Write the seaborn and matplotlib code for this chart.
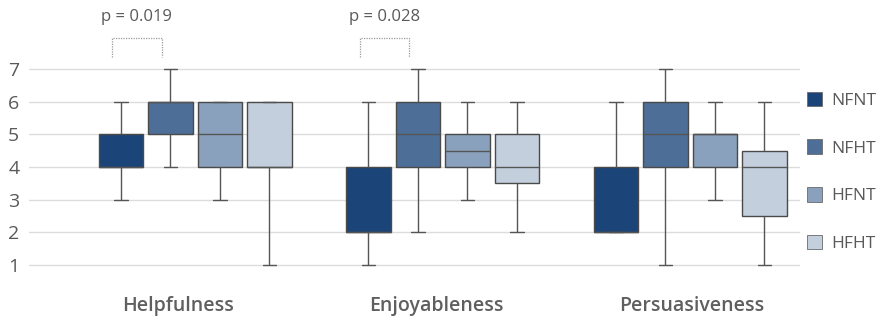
import matplotlib
matplotlib.use("Agg")
import matplotlib.pyplot as plt
import matplotlib.patches as mpatches
import numpy as np
import seaborn as sns
import pandas as pd

# ---- data (five-number summaries: min, Q1, median, Q3, max) ----
categories = ["Helpfulness", "Enjoyableness", "Persuasiveness"]
groups = ["NFNT", "NFHT", "HFNT", "HFHT"]
helpfulness = {
    "NFNT": [3, 4, 4, 5, 6],
    "NFHT": [4, 5, 6, 6, 7],
    "HFNT": [3, 4, 5, 6, 6],
    "HFHT": [1, 4, 4, 6, 6],
}
enjoyableness = {
    "NFNT": [1, 2, 2, 4, 6],
    "NFHT": [2, 4, 5, 6, 7],
    "HFNT": [3, 4, 4.5, 5, 6],
    "HFHT": [2, 3.5, 4, 5, 6],
}
persuasiveness = {
    "NFNT": [2, 2, 2, 4, 6],
    "NFHT": [1, 4, 5, 6, 7],
    "HFNT": [3, 4, 5, 5, 6],
    "HFHT": [1, 2.5, 4, 4.5, 6],
}
p_labels = ["p = 0.019", "p = 0.028"]
y_ticks = [1, 2, 3, 4, 5, 6, 7]
colors = ["#1b4478", "#4d6f97", "#8aa1bd", "#c4cfdd"]

rows = []
for cat, d in zip(categories, [helpfulness, enjoyableness, persuasiveness]):
    for g in groups:
        for v in d[g]:
            rows.append({"category": cat, "group": g, "value": v})
df = pd.DataFrame(rows)

sns.set_theme(style="white")
plt.rcParams["font.family"] = ["Open Sans", "DejaVu Sans"]

fig = plt.figure(figsize=(8.79, 3.20), dpi=100)
ax = fig.add_axes([29 / 879, 1 - 266.6 / 320, (800 - 29) / 879, (266.6 - 67.4) / 320])

sns.boxplot(data=df, x="category", y="value", hue="group", order=categories,
            hue_order=groups, palette=colors, saturation=1, whis=(0, 100),
            width=0.8, gap=0.1, linecolor="#4a4a4a", linewidth=1.0,
            legend=False, ax=ax, zorder=3)

# narrower whisker caps, as in the reference
cap_half = 0.027
for ln in ax.lines:
    xd = np.asarray(ln.get_xdata(), dtype=float)
    yd = np.asarray(ln.get_ydata(), dtype=float)
    if len(xd) == 2 and yd[0] == yd[1] and 0 < abs(xd[1] - xd[0]) < 0.12:
        c = xd.mean()
        ln.set_xdata([c - cap_half, c + cap_half])
    ln.set_color("#555555")

ax.set_ylim(0.95, 7.05)
ax.set_xlim(-0.671, 2.444)
ax.set_yticks(y_ticks)
# category labels sit slightly off the box-group centres in the reference
ax.set_xticks([-0.07, 0.976, 2.008])
ax.set_xticklabels(categories)
ax.yaxis.grid(True, color="#dcdcdc", linewidth=1.0, zorder=0)
ax.set_axisbelow(True)
for s in ax.spines.values():
    s.set_visible(False)
ax.tick_params(axis="y", length=0, pad=7, labelsize=14, labelcolor="#595959")
ax.tick_params(axis="x", length=0, pad=21, labelsize=14, labelcolor="#5f5f5f")
for lbl in ax.get_xticklabels():
    lbl.set_fontweight("semibold")
ax.set_xlabel("")
ax.set_ylabel("")

# significance brackets between NFNT and NFHT
for i, txt in enumerate(p_labels):
    x0 = i - 0.3 - 0.035
    x1 = i - 0.1 - 0.035
    ax.plot([x0, x0, x1, x1], [7.37, 7.94, 7.94, 7.37], color="#9a9a9a",
            linestyle=(0, (1, 1)), linewidth=0.9, clip_on=False)
    ax.text((x0 + x1) / 2, 8.6, txt, ha="center", va="center", fontsize=12,
            color="#595959", clip_on=False)

handles = [mpatches.Patch(facecolor=c, edgecolor="#6a6a6a", linewidth=0.6, label=g)
           for c, g in zip(colors, groups)]
fig.legend(handles=handles, loc="upper left", bbox_to_anchor=(791 / 879, 1 - 76 / 320),
           frameon=False, fontsize=12.5, handlelength=0.9, handleheight=0.9,
           labelspacing=1.76, handletextpad=0.5, labelcolor="#595959")

fig.savefig("out.png", dpi=100)
